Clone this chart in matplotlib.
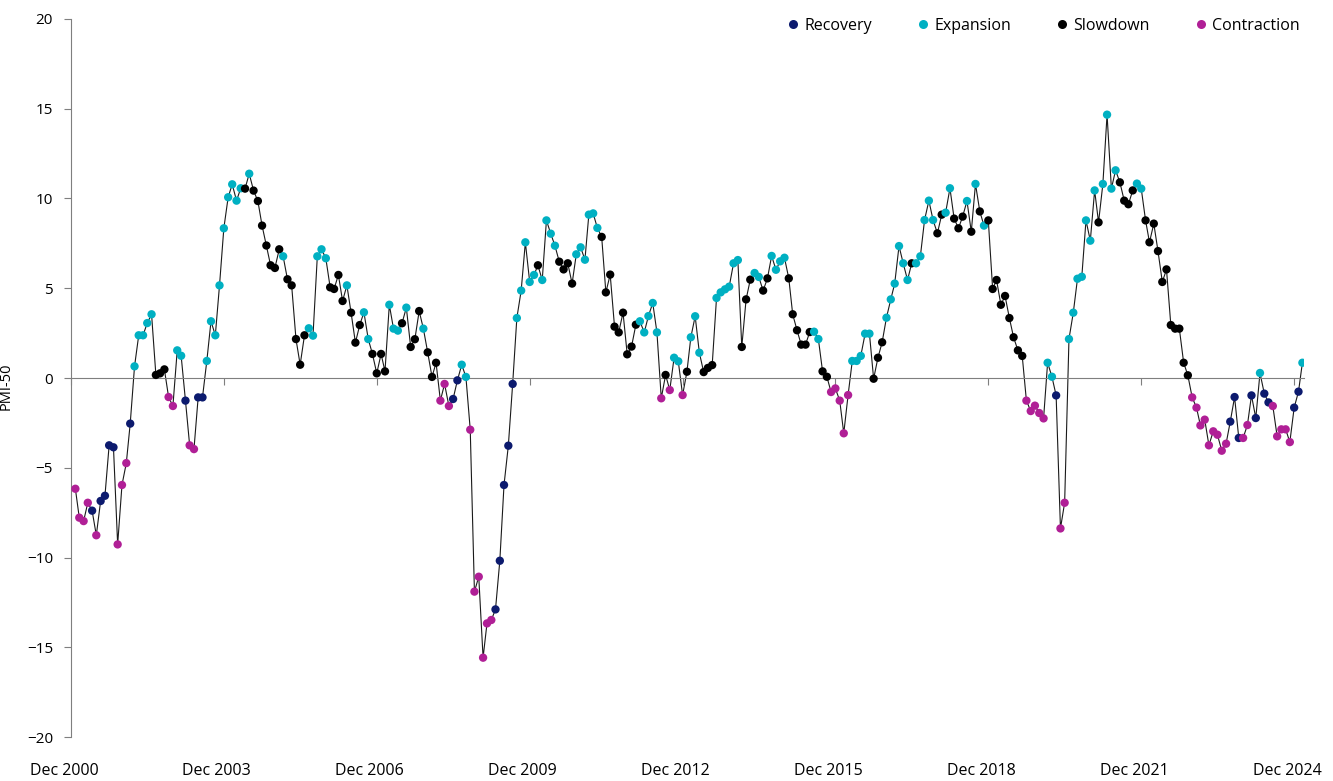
"""PMI-50 por fase do ciclo economico."""

import matplotlib.pyplot as plt
import matplotlib.transforms as mtransforms
import pandas as pd
from matplotlib.lines import Line2D

plt.rcParams["font.family"] = ["Open Sans", "DejaVu Sans"]

# PMI - 50, monthly, Jan 2001 onwards
pmi = [
    -6.17, -7.78, -7.97, -6.95, -7.39, -8.76, -6.85, -6.56, -3.75, -3.86,
    -9.27, -5.96, -4.74, -2.54, 0.65, 2.38, 2.38, 3.06, 3.55, 0.17,
    0.26, 0.48, -1.06, -1.56, 1.54, 1.24, -1.26, -3.75, -3.96, -1.08,
    -1.08, 0.95, 3.16, 2.38, 5.16, 8.34, 10.07, 10.79, 9.88, 10.57,
    10.55, 11.38, 10.44, 9.86, 8.49, 7.38, 6.28, 6.13, 7.17, 6.78,
    5.50, 5.16, 2.17, 0.74, 2.38, 2.77, 2.36, 6.78, 7.17, 6.67,
    5.05, 4.96, 5.74, 4.29, 5.16, 3.64, 1.97, 2.95, 3.66, 2.17,
    1.34, 0.26, 1.34, 0.37, 4.08, 2.75, 2.64, 3.05, 3.92, 1.73,
    2.16, 3.73, 2.75, 1.43, 0.06, 0.85, -1.26, -0.33, -1.56, -1.17,
    -0.13, 0.74, 0.06, -2.88, -11.90, -11.07, -15.58, -13.67, -13.48, -12.89,
    -10.18, -5.96, -3.77, -0.33, 3.34, 4.87, 7.56, 5.35, 5.74, 6.28,
    5.46, 8.78, 8.04, 7.37, 6.48, 6.05, 6.39, 5.26, 6.89, 7.28,
    6.59, 9.10, 9.17, 8.36, 7.86, 4.77, 5.76, 2.86, 2.54, 3.64,
    1.32, 1.75, 2.97, 3.16, 2.54, 3.45, 4.18, 2.54, -1.13, 0.17,
    -0.67, 1.13, 0.93, -0.95, 0.35, 2.27, 3.44, 1.41, 0.33, 0.56,
    0.72, 4.46, 4.77, 4.94, 5.09, 6.39, 6.57, 1.73, 4.38, 5.48,
    5.85, 5.63, 4.87, 5.55, 6.80, 6.03, 6.50, 6.70, 5.55, 3.55,
    2.66, 1.86, 1.86, 2.56, 2.58, 2.17, 0.37, 0.07, -0.78, -0.58,
    -1.26, -3.08, -0.95, 0.95, 0.95, 1.23, 2.47, 2.47, -0.04, 1.13,
    1.99, 3.36, 4.38, 5.26, 7.35, 6.39, 5.46, 6.39, 6.39, 6.78,
    8.80, 9.88, 8.80, 8.06, 9.10, 9.21, 10.57, 8.88, 8.34, 8.99,
    9.86, 8.15, 10.81, 9.28, 8.49, 8.78, 4.96, 5.46, 4.08, 4.57,
    3.34, 2.27, 1.54, 1.23, -1.26, -1.84, -1.54, -1.95, -2.25, 0.85,
    0.07, -0.97, -8.38, -6.95, 2.17, 3.64, 5.53, 5.64, 8.78, 7.65,
    10.45, 8.67, 10.81, 14.67, 10.55, 11.57, 10.90, 9.88, 9.68, 10.45,
    10.83, 10.55, 8.78, 7.56, 8.60, 7.07, 5.35, 6.05, 2.95, 2.75,
    2.75, 0.85, 0.15, -1.08, -1.65, -2.64, -2.32, -3.75, -2.97, -3.16,
    -4.05, -3.66, -2.43, -1.06, -3.34, -3.34, -2.62, -0.97, -2.23, 0.28,
    -0.87, -1.36, -1.56, -3.25, -2.86, -2.86, -3.57, -1.65, -0.76, 0.85,
]

# R = Recovery, E = Expansion, S = Slowdown, C = Contraction
fases = (
    "CCCCRCRRRR" "CCCREEEEES" "SSCCEERCCR" "REEEEEEEEE" "SESSSSSSSE"
    "SSSSSEEEEE" "SSSSESSSEE" "SSSSEEESES" "SSESSSCCCR" "REECCCCCCR"
    "RRRREEEEES" "EEEESSSSEE" "EEEESSSSSS" "SSSEEEEECS" "CEECSEEESS"
    "SEEEEEESSS" "EESSEEEESS" "SSSSEESSCC" "CCCEEEEESS" "SEEEEEESEE"
    "EEESSEESSS" "ESESES" "SSSS" "SSSSCCCCCE" "ERCCEEEEEE"
    "ESEEEESSSS" "EESSSSSSSS" "SSSCCCCCCC" "CCRRRCCRRE" "RRCCCCCRRE"
)

cores = {"R": "#0c1a6e", "E": "#00b0c2", "S": "#000000", "C": "#b01f96"}
nomes = {"R": "Recovery", "E": "Expansion", "S": "Slowdown", "C": "Contraction"}

datas = pd.date_range("2001-01-31", periods=len(pmi), freq="ME")
ticks = [pd.Timestamp(f"{ano}-12-31") for ano in range(2000, 2025, 3)]
rotulos = [f"Dec {ano}" for ano in range(2000, 2025, 3)]

fig = plt.figure(figsize=(13.33, 7.81), dpi=100)
ax = fig.add_axes([0.0533, 0.0563, 0.925, 0.9194])

ax.plot(datas, pmi, color="#1a1a1a", linewidth=0.8, zorder=2)
ax.scatter(datas, pmi, c=[cores[f] for f in fases], s=36, linewidths=0, zorder=3)

ax.set_ylim(-20, 20)
ax.set_yticks(range(-20, 21, 5))
ax.set_xlim(ticks[0], datas[-1] + pd.Timedelta(days=12))

for lado in ["top", "right"]:
    ax.spines[lado].set_visible(False)
ax.spines["left"].set_color("#7f7f7f")
ax.spines["bottom"].set_position(("data", 0))
ax.spines["bottom"].set_color("#7f7f7f")

ax.set_xticks(ticks)
ax.tick_params(axis="x", labelbottom=False, length=5, color="#7f7f7f")
ax.tick_params(axis="y", length=5, color="#7f7f7f", labelsize=11, pad=8)

sec = ax.secondary_xaxis("bottom")
sec.set_xticks(ticks, rotulos)
sec.tick_params(length=0, labelsize=11.5, pad=19)
sec.spines["bottom"].set_visible(False)
desloca = mtransforms.ScaledTranslation(-0.07, 0, fig.dpi_scale_trans)
for rot in sec.get_xticklabels():
    rot.set_transform(rot.get_transform() + desloca)

fig.text(-0.001, 0.505, "PMI-50", rotation=90, va="center", ha="left", fontsize=10.5)

alcas = [
    Line2D([], [], marker="o", linestyle="", markersize=6.5,
           markerfacecolor=cores[k], markeredgewidth=0, label=nomes[k])
    for k in "RESC"
]
ax.legend(handles=alcas, ncol=4, loc="upper right", bbox_to_anchor=(1.008, 1.022),
          frameon=False, fontsize=11.5, handletextpad=0.1, columnspacing=2.6,
          handlelength=1.2)

fig.savefig("out.png", dpi=100)
plt.close(fig)
